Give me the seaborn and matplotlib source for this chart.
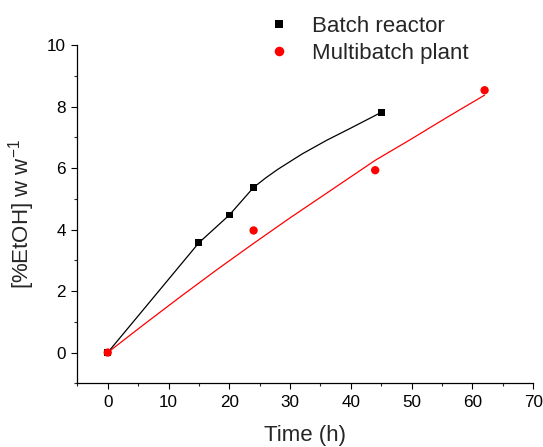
import numpy as np
import pandas as pd
import matplotlib
matplotlib.use("Agg")
import matplotlib.pyplot as plt
from matplotlib.ticker import MultipleLocator
import seaborn as sns

# measured points
batch_time = [0, 15, 20, 24, 45]
batch_etoh = [0.0, 3.57, 4.47, 5.37, 7.81]
multi_time = [0, 24, 44, 62]
multi_etoh = [0.0, 3.97, 5.93, 8.53]

# fitted curves
batch_fit_time = [0, 15, 20, 24, 26, 28, 32, 36, 40, 45]
batch_fit_etoh = [0.0, 3.57, 4.47, 5.37, 5.68, 5.96, 6.46, 6.9, 7.3, 7.81]
multi_fit_time = [0, 6, 12, 18, 24, 30, 36, 44, 50, 56, 62]
multi_fit_etoh = [0.0, 0.92, 1.82, 2.70, 3.55, 4.38, 5.18, 6.25, 6.95, 7.67, 8.37]

labels = ["Batch reactor", "Multibatch plant"]
colors = {"Batch reactor": "black", "Multibatch plant": "red"}

pts = pd.DataFrame({
    "time": batch_time + multi_time,
    "etoh": batch_etoh + multi_etoh,
    "series": [labels[0]] * len(batch_time) + [labels[1]] * len(multi_time),
})
fits = pd.DataFrame({
    "time": batch_fit_time + multi_fit_time,
    "etoh": batch_fit_etoh + multi_fit_etoh,
    "series": [labels[0]] * len(batch_fit_time) + [labels[1]] * len(multi_fit_time),
})

sns.set_style("ticks")
plt.rcParams["font.family"] = ["Liberation Sans", "DejaVu Sans"]
plt.rcParams["mathtext.fontset"] = "custom"
plt.rcParams["mathtext.rm"] = "Liberation Sans"
plt.rcParams["mathtext.it"] = "Liberation Sans:italic"

fig = plt.figure(figsize=(5.43, 4.47), dpi=100)
ax = fig.add_axes([0.1424, 0.1425, 0.982 - 0.1424, 0.8993 - 0.1425])

sns.lineplot(data=fits, x="time", y="etoh", hue="series", palette=colors,
             linewidth=0.9, legend=False, sort=False, ax=ax)
sns.scatterplot(data=pts, x="time", y="etoh", hue="series", style="series",
                size="series", sizes={labels[0]: 24, labels[1]: 36},
                palette=colors, markers={labels[0]: "s", labels[1]: "o"},
                linewidth=0, ax=ax, zorder=3)

ax.set_xlim(-5, 70)
ax.set_ylim(-1, 10)
ax.xaxis.set_major_locator(MultipleLocator(10))
ax.xaxis.set_minor_locator(MultipleLocator(5))
ax.yaxis.set_major_locator(MultipleLocator(2))
ax.yaxis.set_minor_locator(MultipleLocator(1))
ax.tick_params(which="major", length=4.3, width=0.8, labelsize=12.3, pad=4, colors="black")
ax.tick_params(which="minor", length=2.4, width=0.8)
for sp in ["left", "bottom"]:
    ax.spines[sp].set_linewidth(0.9)
    ax.spines[sp].set_color("black")
sns.despine(ax=ax)

ax.set_xlabel("Time (h)", fontsize=16, labelpad=11)
ax.set_ylabel("[%EtOH] w w$^{\\mathregular{-1}}$", fontsize=16, labelpad=7)

ax.legend(loc="upper left", bbox_to_anchor=(0.4853, 0.964), bbox_transform=fig.transFigure,
          frameon=False, fontsize=16, handlelength=1.4, handletextpad=0.8,
          borderpad=0, borderaxespad=0, labelspacing=0.25, markerscale=1.15)

fig.savefig("out.png", dpi=100)
